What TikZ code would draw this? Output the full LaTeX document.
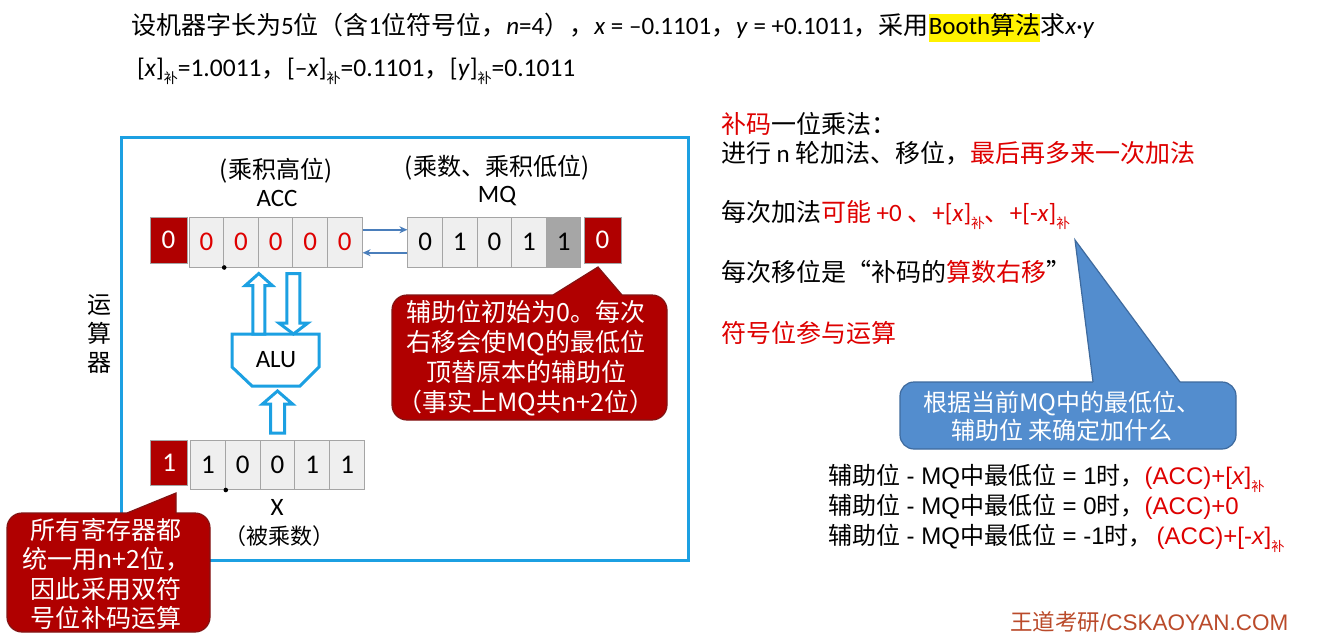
\documentclass[tikz,border=0pt]{standalone}
\usepackage{fontspec}
\usepackage{graphicx}
\setmainfont{Carlito}
\newfontfamily\zhfont{Noto Sans CJK SC}
\newfontfamily\arialfont{Liberation Sans}
\usetikzlibrary{arrows.meta,calc}

\definecolor{txtred}{RGB}{222,0,0}
\definecolor{boxred}{RGB}{176,0,0}
\definecolor{boxredline}{RGB}{130,20,20}
\definecolor{cellgray}{RGB}{239,239,239}
\definecolor{celledge}{RGB}{165,165,165}
\definecolor{celldark}{RGB}{166,166,166}
\definecolor{frameblue}{RGB}{28,160,226}
\definecolor{linkblue}{RGB}{74,126,187}
\definecolor{tipblue}{RGB}{83,141,206}
\definecolor{tipblueline}{RGB}{62,106,158}
\definecolor{markbrown}{RGB}{186,74,42}

% Chinese text inside Latin runs
\newcommand\zhs[1]{{\zhfont #1}}
% small subscript "补" for complement notation
\newcommand\sbu{\raisebox{-0.28em}{\zhfont\scalebox{0.55}{补}}}
\newcommand\fs[1]{\fontsize{#1}{#1}\selectfont}

% hollow vertical block arrow: tail, tip, shaft half width, head half width, head length
\newcommand\blockarrow[5]{%
  \draw[hollowarrow] let \p1=(#1), \p2=(#2), \n1={#5*sign(\y2-\y1)} in
    (\x1-#3pt,\y1) -- (\x1-#3pt,\y2-\n1*1pt) -- (\x1-#4pt,\y2-\n1*1pt) -- (\x1,\y2)
    -- (\x1+#4pt,\y2-\n1*1pt) -- (\x1+#3pt,\y2-\n1*1pt) -- (\x1+#3pt,\y1) -- cycle;}

\tikzset{
  txt/.style={inner sep=0pt, outer sep=0pt},
  cellbox/.style={draw=celledge, fill=cellgray, line width=1pt, inner sep=0pt,
    minimum width=34.6pt, minimum height=49.5pt, font=\fs{27}},
  signcell/.style={draw=celledge, fill=boxred, text=white, line width=1pt, inner sep=0pt,
    minimum width=37pt, minimum height=46pt, font=\fs{27}},
  hollowarrow/.style={draw=frameblue, fill=white, line width=3pt, line join=miter},
  linkarrow/.style={draw=linkblue, line width=1.5pt, -{Stealth[length=8pt,width=7pt]}},
  redtip/.style={fill=boxred},
  redtipline/.style={draw=boxredline, line width=1.2pt},
  bluetip/.style={fill=tipblue},
  bluetipline/.style={draw=tipblueline, line width=1.2pt},
}

\begin{document}
\begin{tikzpicture}[x=1pt,y=-1pt]
\useasboundingbox (0,0) rectangle (1332,634);
\fill[white] (0,0) rectangle (1332,634);

% ---------- heading ----------
\node[txt, anchor=west, font=\fs{25}] (title) at (131,28)
  {\zhs{设机器字长为}5\zhs{位（含}1\zhs{位符号位，}\textit{n}=4\zhs{），}\textit{x} = –0.1101\zhs{，}\textit{y} = +0.1011\zhs{，采用}{\setlength\fboxsep{0pt}\colorbox{yellow}{\strut Booth\zhs{算法}}}\zhs{求}\textit{x}·\textit{y}};
\node[txt, anchor=west, font=\fs{25.5}] (codes) at (137,71)
  {[\textit{x}]\sbu=1.0011\zhs{，}[–\textit{x}]\sbu=0.1101\zhs{，}[\textit{y}]\sbu=0.1011};

% ---------- arithmetic unit frame ----------
\draw[frameblue, line width=3pt] (121,137) rectangle (688,560);
\node[txt, align=center, font=\zhfont\fontsize{24}{29}\selectfont] (unitname) at (99,334)
  {运\\算\\器};

% ACC register
\node[txt, font=\zhfont\fs{24}] (acchint) at (276,171) {(乘积高位)};
\node[txt, font=\fs{25}] (acclabel) at (277,198) {ACC};
\node[signcell] (accsign) at (168.5,240) {0};
\foreach \i in {1,...,5}
  \node[cellbox, text=txtred, anchor=north west] (acc\i) at ({188.6+(\i-1)*34.6},217) {0};
\fill (acc1.south east) circle (2.3);

% MQ register
\node[txt, font=\zhfont\fs{24}] (mqhint) at (497,168) {(乘数、乘积低位)};
\node[txt, font=\fs{25}] (mqlabel) at (497,196) {MQ};
\foreach \i/\d in {1/0,2/1,3/0,4/1}
  \node[cellbox, anchor=north west] (mq\i) at ({407.4+(\i-1)*34.6},217) {\d};
\node[cellbox, fill=celldark, anchor=north west] (mq5) at ({407.4+4*34.6},217) {1};
\node[signcell] (mqaux) at (602.5,240) {0};

% shifts between ACC and MQ
\draw[linkarrow] ($(acc5.east)+(0,-12.5)$) -- ($(mq1.west)+(0,-12.5)$);
\draw[linkarrow] ($(mq1.west)+(0,10.5)$) -- ($(acc5.east)+(0,10.5)$);

% ALU
\draw[hollowarrow] (232,334) -- (319,334) -- (319,367) -- (300,386) -- (252,386) -- (232,367) -- cycle;
\node[txt, font=\fs{25}] (alu) at (276,360) {ALU};
\coordinate (alutop) at (276,334);
\coordinate (alubot) at (276,386);

% X register
\node[signcell, minimum width=36.5pt, minimum height=45pt] (xsign) at (169.2,462.5) {1};
\foreach \i/\d in {1/1,2/0,3/0,4/1,5/1}
  \node[cellbox, minimum width=34.8pt, minimum height=49pt, anchor=north west] (x\i) at ({190+(\i-1)*34.8},440) {\d};
\fill (x1.south east) circle (2.3);
\node[txt, font=\fs{25}] (xlabel) at (277,507) {X};
\node[txt, font=\zhfont\fs{22}] (xhint) at (279,536) {（被乘数）};

% data paths
\blockarrow{alutop -| acc2.south east}{$(acc2.south east)+(0,6)$}{6}{13.5}{12}
\blockarrow{$(acc3.south east)+(0,6)$}{alutop -| acc3.south east}{6.5}{14.5}{11}
\blockarrow{$(x3.north)+(0,-7)$}{$(alubot)+(0,5)$}{7}{15}{13}

% ---------- callout on the auxiliary bit ----------
\filldraw[redtip, redtipline, rounded corners=15pt] (392,295) rectangle (667,420);
\fill[redtip] (553,297) -- (553,295) -- (598,267) -- (622,295) -- (622,297) -- cycle;
\draw[redtipline, line join=miter] (553,295) -- (598,267) -- (622,295);
\node[txt, align=center, text=white, font=\zhfont\fontsize{25}{30}\selectfont] (auxnote) at (526,358)
  {辅助位初始为0。每次\\右移会使MQ的最低位\\顶替原本的辅助位\\（事实上MQ共n+2位）};

% ---------- callout on register width ----------
\filldraw[redtip, redtipline, rounded corners=15pt] (7,513) rectangle (210,632);
\fill[redtip] (127,515) -- (127,513) -- (176,493) -- (176,515) -- cycle;
\draw[redtipline, line join=miter] (127,513) -- (176,493) -- (176,513);
\node[txt, align=center, text=white, font=\zhfont\fontsize{25}{29.3}\selectfont] (widthnote) at (106,574)
  {所有寄存器都\\统一用n+2位，\\因此采用双符\\号位补码运算};

% ---------- right-hand notes ----------
\node[txt, anchor=west, font=\fs{25}] (rule1) at (721,124) {\zhs{\textcolor{txtred}{补码}一位乘法：}};
\node[txt, anchor=west, font=\fs{25}] (rule2) at (721,153) {\zhs{进行} n \zhs{轮加法、移位，\textcolor{txtred}{最后再多来一次加法}}};
\node[txt, anchor=west, font=\fs{25}] (rule3) at (721,215)
  {\zhs{每次加法}\textcolor{txtred}{\zhs{可能} +0 \zhs{、}+[\textit{x}]\sbu\zhs{、}+[-\textit{x}]\sbu}};
\node[txt, anchor=west, font=\fs{25}] (rule4) at (721,272) {\zhs{每次移位是“补码的\textcolor{txtred}{算数右移}”}};
\node[txt, anchor=west, font=\fs{25}, text=txtred] (rule5) at (721,333) {\zhs{符号位参与运算}};

% ---------- blue callout ----------
\filldraw[bluetip, bluetipline, rounded corners=14pt] (900,382) rectangle (1236,449);
\fill[bluetip] (1093,384) -- (1093,382) -- (1075,240) -- (1180,382) -- (1180,384) -- cycle;
\draw[bluetipline, line join=miter] (1093,382) -- (1075,240) -- (1180,382);
\node[txt, align=center, text=white, font=\zhfont\fontsize{24}{28}\selectfont] (bluenote) at (1062,416)
  {根据当前MQ中的最低位、\\辅助位 来确定加什么};

% ---------- decision table ----------
\begin{scope}[every node/.style={txt, anchor=west, font=\arialfont\fs{24}}]
\node (case1) at (828,478)
  {\zhs{辅助位} - MQ\zhs{中最低位} = 1\zhs{时，}\textcolor{txtred}{(ACC)+[\textit{x}]\sbu}};
\node (case2) at (828,507)
  {\zhs{辅助位} - MQ\zhs{中最低位} = 0\zhs{时，}\textcolor{txtred}{(ACC)+0}};
\node (case3) at (828,538)
  {\zhs{辅助位} - MQ\zhs{中最低位} = -1\zhs{时，}\,\textcolor{txtred}{(ACC)+[-\textit{x}]\sbu}};
\end{scope}

% ---------- site mark ----------
\node[txt, anchor=west, text=markbrown, font=\fs{22.5}] (sitemark) at (1010,622)
  {\zhs{王道考研}{\arialfont /CSKAOYAN.COM}};
\end{tikzpicture}
\end{document}
